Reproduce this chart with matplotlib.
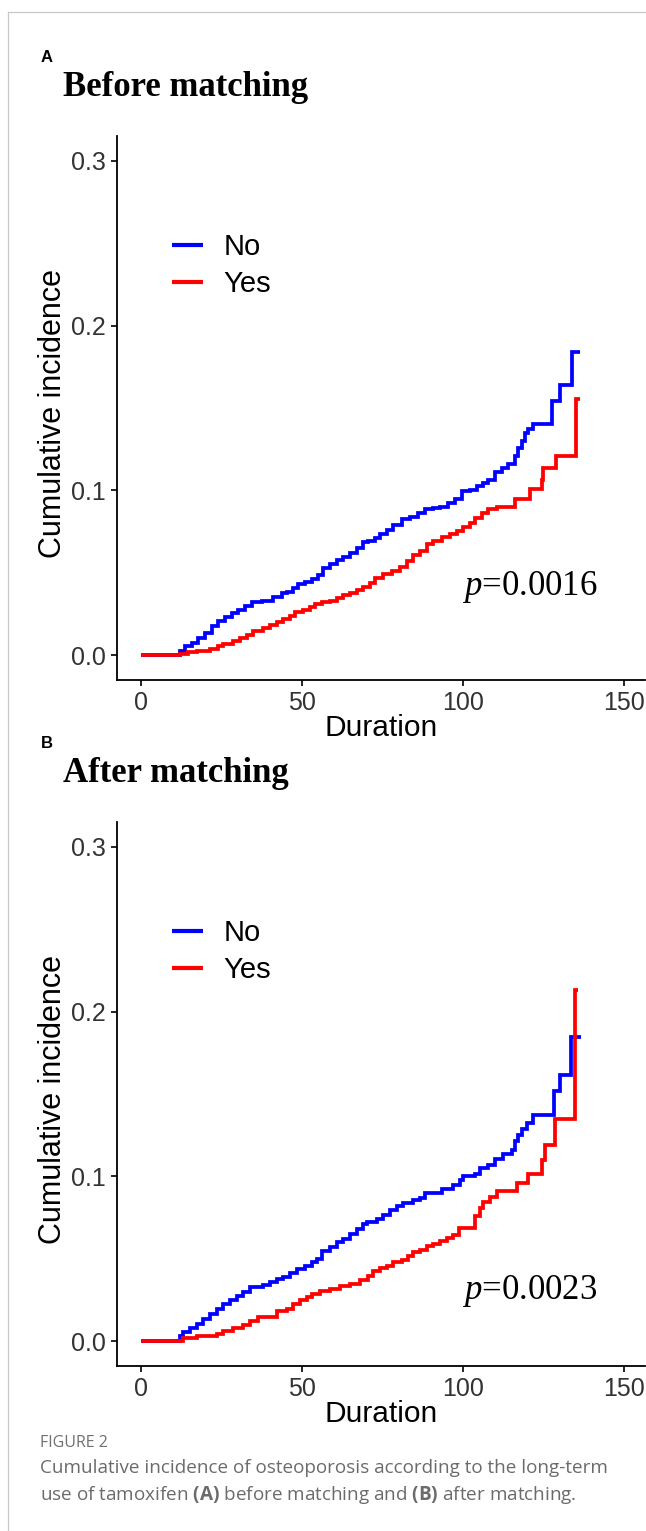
import matplotlib
matplotlib.use("Agg")
import matplotlib.pyplot as plt
from matplotlib.lines import Line2D

plt.rcParams['mathtext.fontset'] = 'custom'
plt.rcParams['mathtext.it'] = 'Liberation Serif:italic'
plt.rcParams['mathtext.rm'] = 'Liberation Serif'
plt.rcParams['mathtext.bf'] = 'Open Sans:bold'

# ---------------- data ----------------
time_a_no = [0, 12.1, 13.7, 15.7, 17.8, 19.9, 22.0, 24.0, 26.1, 28.2, 30.2, 32.3, 34.4, 37.5, 39.0,
             41.1, 43.7, 45.2, 47.3, 48.9, 50.9, 53.0, 55.1, 56.6, 58.7, 60.8, 62.8, 64.9, 67.0,
             69.0, 70.6, 72.7, 74.2, 76.3, 78.4, 81.0, 83.5, 86.1, 88.2, 90.8, 92.9, 95.4, 97.5,
             99.6, 102.2, 104.3, 106.3, 107.9, 110.0, 112.0, 114.1, 116.1, 117.2, 118.2, 119.3,
             120.3, 121.8, 127.5, 130.1, 133.8, 136.4]
inc_a_no = [0, 0.0024, 0.0055, 0.0075, 0.0105, 0.0136, 0.0176, 0.0206, 0.0231, 0.0257, 0.0277, 0.0298,
            0.0324, 0.0328, 0.0332, 0.0354, 0.0375, 0.0383, 0.0409, 0.0433, 0.0443, 0.0463, 0.0484,
            0.0530, 0.0551, 0.0577, 0.0595, 0.0621, 0.0651, 0.0686, 0.0696, 0.0712, 0.0737, 0.0757,
            0.0793, 0.0824, 0.0838, 0.0864, 0.0885, 0.0891, 0.0899, 0.0925, 0.0946, 0.0996, 0.1000,
            0.1026, 0.1046, 0.1063, 0.1111, 0.1137, 0.1161, 0.1208, 0.1259, 0.1299, 0.1350, 0.1370,
            0.1404, 0.1540, 0.1640, 0.1838, 0.1838]

time_a_yes = [0, 12.1, 14.7, 17.3, 21.4, 24.0, 25.6, 28.7, 30.7, 32.8, 34.9, 38.0, 40.1, 42.1, 44.2,
              46.3, 47.8, 50.4, 52.5, 54.0, 56.1, 58.7, 60.8, 62.8, 64.9, 67.0, 69.0, 71.1, 72.7,
              75.2, 77.9, 80.4, 82.5, 84.6, 86.6, 88.7, 90.8, 93.4, 96.0, 98.0, 100.1, 102.2, 103.7,
              105.8, 107.9, 110.5, 116.1, 120.8, 124.4, 124.9, 128.8, 135.2, 136.4]
inc_a_yes = [0, 0.0008, 0.0020, 0.0028, 0.0040, 0.0055, 0.0071, 0.0085, 0.0105, 0.0125, 0.0146, 0.0166,
             0.0186, 0.0202, 0.0220, 0.0237, 0.0261, 0.0277, 0.0291, 0.0312, 0.0322, 0.0328, 0.0348,
             0.0368, 0.0378, 0.0395, 0.0413, 0.0439, 0.0469, 0.0490, 0.0514, 0.0536, 0.0571, 0.0607,
             0.0631, 0.0672, 0.0696, 0.0716, 0.0733, 0.0753, 0.0777, 0.0803, 0.0834, 0.0864, 0.0885,
             0.0899, 0.0949, 0.1006, 0.1061, 0.1137, 0.1208, 0.1556, 0.1556]

time_b_no = [0, 12.1, 13.1, 15.2, 17.3, 19.3, 21.4, 23.5, 25.6, 27.6, 29.7, 31.8, 33.9, 38.0, 40.1,
             42.1, 44.2, 46.3, 48.4, 50.9, 53.0, 54.6, 56.1, 58.7, 60.8, 62.8, 64.9, 67.0, 69.0,
             70.1, 73.2, 75.2, 77.3, 79.4, 81.5, 84.6, 86.6, 88.2, 93.4, 97.0, 99.1, 100.1, 103.7,
             105.3, 107.9, 110.0, 112.5, 115.1, 116.1, 117.2, 118.2, 119.8, 121.8, 128.2, 130.1,
             133.6, 136.5]
inc_b_no = [0, 0.0030, 0.0055, 0.0081, 0.0107, 0.0136, 0.0168, 0.0198, 0.0228, 0.0253, 0.0273, 0.0297,
            0.0330, 0.0340, 0.0358, 0.0378, 0.0390, 0.0415, 0.0439, 0.0455, 0.0479, 0.0499, 0.0545,
            0.0572, 0.0600, 0.0621, 0.0653, 0.0681, 0.0713, 0.0721, 0.0742, 0.0768, 0.0794, 0.0818,
            0.0839, 0.0855, 0.0869, 0.0899, 0.0924, 0.0950, 0.0980, 0.1004, 0.1015, 0.1051, 0.1071,
            0.1105, 0.1138, 0.1162, 0.1212, 0.1253, 0.1287, 0.1327, 0.1374, 0.1520, 0.1616, 0.1845,
            0.1845]

time_b_yes = [0, 13.1, 17.3, 23.5, 25.6, 28.7, 31.8, 33.9, 36.4, 42.1, 45.2, 47.3, 49.4, 51.5, 53.0,
              55.6, 58.7, 61.8, 64.9, 68.0, 70.6, 72.1, 74.2, 76.3, 78.4, 81.0, 83.0, 84.6, 86.6,
              88.7, 90.8, 92.9, 94.9, 97.0, 98.6, 103.7, 105.3, 106.3, 108.4, 110.5, 116.6, 120.3,
              124.4, 125.5, 128.6, 134.8, 135.8]
inc_b_yes = [0, 0.0020, 0.0035, 0.0047, 0.0061, 0.0081, 0.0101, 0.0121, 0.0148, 0.0182, 0.0198, 0.0228,
             0.0248, 0.0267, 0.0289, 0.0303, 0.0318, 0.0333, 0.0350, 0.0370, 0.0394, 0.0424, 0.0445,
             0.0459, 0.0479, 0.0495, 0.0515, 0.0539, 0.0556, 0.0580, 0.0592, 0.0610, 0.0627, 0.0647,
             0.0687, 0.0758, 0.0808, 0.0842, 0.0875, 0.0909, 0.0960, 0.1015, 0.1101, 0.1192, 0.1348,
             0.2132, 0.2132]

groups = ["No", "Yes"]
x_ticks = [0, 50, 100, 150]
y_ticks = [0.0, 0.1, 0.2, 0.3]
y_tick_labels = ["0.0", "0.1", "0.2", "0.3"]
panel_letters = ["A", "B"]
panel_titles = ["Before matching", "After matching"]
p_values = ["0.0016", "0.0023"]
x_label = "Duration"
y_label = "Cumulative incidence"
caption_head = "FIGURE 2"
caption_line1 = "Cumulative incidence of osteoporosis according to the long-term"
caption_line2 = r"use of tamoxifen $\mathbf{(A)}$ before matching and $\mathbf{(B)}$ after matching."

# ---------------- layout ----------------
W, H = 646, 1531
fig = plt.figure(figsize=(W / 100, H / 100), dpi=100)

def fx(px):
    return px / W

def fy(py):
    return 1 - py / H

panels = [
    dict(top=136, bottom=680, data=(time_a_no, inc_a_no, time_a_yes, inc_a_yes),
         letter_y=62, title_y=96, p_y=0.0365),
    dict(top=822, bottom=1366, data=(time_b_no, inc_b_no, time_b_yes, inc_b_yes),
         letter_y=748, title_y=782, p_y=0.0255),
]
left_px, right_px = 117, 645

for i, pnl in enumerate(panels):
    ax = fig.add_axes([fx(left_px), fy(pnl['bottom']), (right_px - left_px) / W,
                       (pnl['bottom'] - pnl['top']) / H])
    tn, yn, ty, yy = pnl['data']
    ax.plot(tn, yn, drawstyle='steps-post', color='#0000FF', lw=2.7, label=groups[0],
            solid_joinstyle='miter', solid_capstyle='butt')
    ax.plot(ty, yy, drawstyle='steps-post', color='#FF0000', lw=2.7, label=groups[1],
            solid_joinstyle='miter', solid_capstyle='butt')
    ax.set_xlim(-7.45, 156.5)
    ax.set_ylim(-0.015, 0.315)
    ax.set_xticks(x_ticks)
    ax.set_yticks(y_ticks)
    ax.set_yticklabels(y_tick_labels)
    for s in ['top', 'right']:
        ax.spines[s].set_visible(False)
    for s in ['left', 'bottom']:
        ax.spines[s].set_linewidth(1.3)
        ax.spines[s].set_color('black')
    ax.tick_params(axis='both', direction='out', length=4, width=1.2, color='black',
                   labelsize=18, labelcolor='#333333', pad=4)
    for lab in ax.get_xticklabels() + ax.get_yticklabels():
        lab.set_fontfamily('Liberation Sans')
    ax.set_xlabel(x_label, fontsize=21.5, fontfamily='Liberation Sans', color='black')
    ax.set_ylabel(y_label, fontsize=22, fontfamily='Liberation Sans', color='black')
    ax.xaxis.set_label_coords(0.5, -0.062)
    ax.yaxis.set_label_coords(-0.092, 0.49)
    leg = ax.legend(loc='upper left', bbox_to_anchor=(0.105, 0.822), frameon=False,
                    prop={'family': 'Liberation Sans', 'size': 21}, handlelength=1.05,
                    handletextpad=0.7, labelspacing=0.33, borderpad=0, borderaxespad=0)
    for h in leg.get_lines():
        h.set_linewidth(3.0)
    ax.text(99.7, pnl['p_y'], r"$\it{p}$=" + p_values[i], fontsize=25,
            fontfamily='Liberation Serif', va='baseline', ha='left', color='black')
    fig.text(fx(41), fy(pnl['letter_y']), panel_letters[i], fontsize=12, fontweight='bold',
             fontfamily='Liberation Sans', va='baseline', ha='left')
    fig.text(fx(63), fy(pnl['title_y']), panel_titles[i], fontsize=25, fontweight='bold',
             fontfamily='Liberation Serif', va='baseline', ha='left')

# caption
cap_color = '#6b6b6b'
fig.text(fx(40), fy(1447), caption_head, fontsize=11.5, fontfamily='Open Sans',
         color='#707070', va='baseline', ha='left')
fig.text(fx(40), fy(1473), caption_line1, fontsize=13.6, fontfamily='Open Sans',
         color=cap_color, va='baseline', ha='left')
fig.text(fx(40), fy(1500), caption_line2, fontsize=13.6, fontfamily='Open Sans',
         color=cap_color, va='baseline', ha='left')

# page border lines
fig.add_artist(Line2D([fx(8), 1], [fy(12), fy(12)], color='#c8c8c8', lw=0.9))
fig.add_artist(Line2D([fx(8), fx(8)], [fy(12), 0], color='#c8c8c8', lw=0.9))

fig.savefig("out.png", dpi=100, facecolor='white')
